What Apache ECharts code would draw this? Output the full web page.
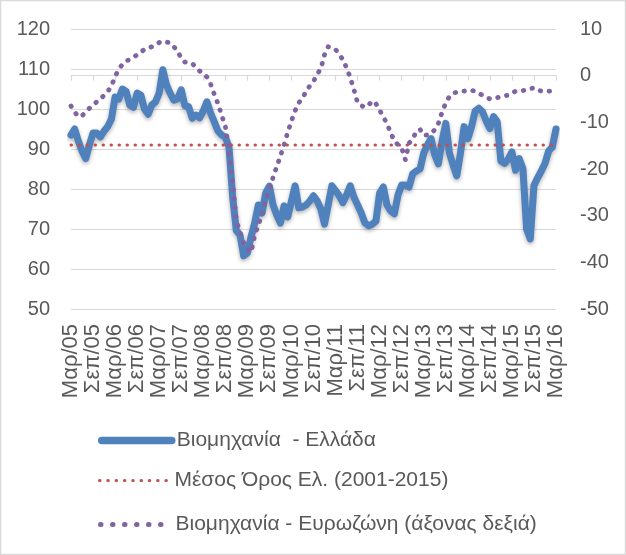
<!DOCTYPE html>
<html>
<head>
<meta charset="utf-8">
<script src="https://cdn.jsdelivr.net/npm/echarts@6/dist/echarts.min.js"></script>
<style>
  html, body { margin: 0; padding: 0; background: #fff; }
  #chart { width: 626px; height: 555px; }
</style>
</head>
<body>
<div id="chart"></div>
<script>
// μήνες (ετικέτες άξονα x): Μαρ/05 ... Μαρ/16
const monthNames = ['Ιαν', 'Φεβ', 'Μαρ', 'Απρ', 'Μαϊ', 'Ιουν', 'Ιουλ', 'Αυγ', 'Σεπ', 'Οκτ', 'Νοε', 'Δεκ'];
const startYear = 2005;
const startMonth = 2; // Μάρτιος
const monthCount = 133;

const categories = [];
for (let k = 0; k < monthCount; k++) {
  const m = (startMonth + k) % 12;
  const y = startYear + Math.floor((startMonth + k) / 12);
  categories.push(monthNames[m] + '/' + String(y).slice(2));
}

// Βιομηχανία - Ελλάδα (αριστερός άξονας)
const greeceIndustry = [
  93.5, 95, 92, 89.5, 87.6, 91, 94, 94, 93, 94.5, 95.6, 97.5,
  103, 102.5, 105, 104.4, 101, 100.4, 104, 103.5, 100, 98.7, 101, 101.8,
  104, 109.8, 106, 103.9, 102.2, 102.5, 104.8, 100.8, 100.6, 97.7, 98.5, 97.8,
  99.5, 101.8, 99, 96.8, 94.5, 93.5, 93, 90.5, 78, 69.6, 68.5, 63.3,
  64, 68, 71.5, 76, 74, 79, 80.7, 76, 73.5, 71.5, 75.8, 73,
  77, 80.8, 75.3, 75.5, 76, 77, 78.3, 77, 75, 71.2, 76, 80.8,
  79.6, 78.3, 76.6, 78.5, 80.8, 78, 76, 74, 71.5, 70.8, 71.2, 72,
  79, 80.5, 76, 74.5, 73.8, 78.5, 81, 81, 80.5, 83.8, 84.5, 85,
  89, 91, 92.6, 88.5, 86.3, 92, 96.4, 89, 86, 83.3, 89, 95.6,
  92.6, 95.5, 99.5, 100.2, 99.3, 97, 95.1, 98.1, 96.8, 87, 86.4, 87.5,
  89.3, 84.7, 87.6, 85.1, 70, 67.5, 80.9, 82.8, 84.5, 86.4, 89.5, 90.5,
  95
];

// Βιομηχανία - Ευρωζώνη (δεξιός άξονας)
const euroIndustry = [
  -6.5, -7.8, -8.8, -8.6, -7.8, -7, -6.4, -5.6, -5, -4.2, -3.4, -2.2,
  -0.2, 1.4, 2.4, 3.1, 3.5, 3.9, 4.5, 5.1, 5.6, 5.9, 6.2, 6.6,
  7.1, 7.4, 7.2, 7.0, 6.2, 5.2, 3.8, 2.9, 2.8, 2.6, 1.8, 1.0,
  0.4, -0.3, -1.8, -4.0, -6.0, -8.5, -10.8, -16, -23, -31, -33.6, -35.8,
  -37, -37.9, -34.2, -32, -29.7, -26.6, -24.3, -21.8, -19.5, -17.2, -14.8, -12.1,
  -9.7, -7.5, -5.8, -4.9, -3.3, -2.2, -1.2, 0.3, 1.5, 4.5, 6.2, 6.0,
  5.6, 4.6, 3.4, 1.7, -0.4, -3.0, -5.8, -6.4, -6.8, -6.3, -5.4, -6,
  -7.4, -8.8, -10.3, -12.2, -14, -14.8, -15.5, -18, -14.5, -13.5, -12, -11.5,
  -12.8, -12.7, -12.4, -11.6, -10.2, -7.8, -5.8, -4.5, -3.8, -3.5, -3.3, -3.3,
  -3.2, -3.1, -3.4, -3.8, -4.2, -4.6, -5, -4.8, -4.7, -4.5, -4.3, -4.2,
  -3.8, -3.3, -3.2, -3.2, -3.0, -2.8, -2.6, -3.1, -3.3, -3.3, -3.3, -3.4,
  -3.5
];

// Μέσος Όρος Ελ. (2001-2015)
const greeceAverage = 91;

const seriesNames = [
  'Βιομηχανία  - Ελλάδα',
  'Μέσος Όρος Ελ. (2001-2015)',
  'Βιομηχανία - Ευρωζώνη (άξονας δεξιά)'
];

const leftTicks = { min: 50, max: 120, interval: 10 };
const rightTicks = { min: -50, max: 10, interval: 10 };

const fontFamily = '"Liberation Sans", "DejaVu Sans", sans-serif';
const textColor = '#595959';
const gridColor = '#d9d9d9';

const chart = echarts.init(document.getElementById('chart'), null, { renderer: 'canvas' });

function legendAt(name, top, lineStyle) {
  return {
    data: [name],
    left: 93,
    top: top,
    itemWidth: 70,
    itemHeight: 14,
    itemGap: 8,
    selectedMode: false,
    textStyle: { fontSize: 21, color: textColor, fontFamily: fontFamily },
    itemStyle: { color: 'rgba(0,0,0,0)', borderWidth: 0 },
    lineStyle: lineStyle
  };
}

const option = {
  animation: false,
  backgroundColor: '#fff',
  graphic: [{
    type: 'rect',
    shape: { x: 0.5, y: 0.5, width: 625, height: 554 },
    style: { fill: 'none', stroke: gridColor, lineWidth: 1.5 },
    silent: true
  }],
  grid: { left: 71, top: 29, width: 485, height: 280 },
  legend: [
    legendAt(seriesNames[0], 425, { width: 7.5, cap: 'round' }),
    legendAt(seriesNames[1], 465, { width: 3, type: [0.5, 7.8], cap: 'round' }),
    legendAt(seriesNames[2], 509, { width: 5, type: [0.5, 11.5], cap: 'round' })
  ],
  xAxis: {
    type: 'category',
    data: categories,
    boundaryGap: false,
    axisLine: { show: true, lineStyle: { color: gridColor, width: 1.2 } },
    axisTick: { show: true, interval: 5, length: 5, lineStyle: { color: gridColor, width: 1.2 } },
    axisLabel: {
      interval: 5,
      rotate: 90,
      margin: 15,
      fontSize: 22,
      color: textColor,
      fontFamily: fontFamily
    },
    splitLine: { show: false }
  },
  yAxis: [
    {
      type: 'value',
      min: leftTicks.min,
      max: leftTicks.max,
      interval: leftTicks.interval,
      axisLine: { show: false },
      axisTick: { show: false },
      axisLabel: { fontSize: 20, color: textColor, fontFamily: fontFamily, margin: 21 },
      splitLine: { lineStyle: { color: gridColor, width: 1.2 } }
    },
    {
      type: 'value',
      position: 'right',
      min: rightTicks.min,
      max: rightTicks.max,
      interval: rightTicks.interval,
      axisLine: { show: false },
      axisTick: { show: false },
      axisLabel: { fontSize: 20, color: textColor, fontFamily: fontFamily, margin: 24 },
      splitLine: { show: false }
    }
  ],
  series: [
    {
      name: seriesNames[0],
      type: 'line',
      yAxisIndex: 0,
      data: greeceIndustry,
      symbol: 'none',
      lineStyle: {
        color: '#4f81bd',
        width: 7,
        cap: 'round',
        join: 'round',
        shadowColor: 'rgba(0,0,0,0.3)',
        shadowBlur: 4,
        shadowOffsetY: 2
      },
      itemStyle: { color: '#4f81bd' },
      z: 2
    },
    {
      name: seriesNames[1],
      type: 'line',
      yAxisIndex: 0,
      data: [[categories[0], greeceAverage], [categories[monthCount - 1], greeceAverage]],
      symbol: 'none',
      lineStyle: {
        color: '#c0504d',
        width: 3,
        type: [0.5, 7.5],
        cap: 'round'
      },
      itemStyle: { color: '#c0504d' },
      z: 3
    },
    {
      name: seriesNames[2],
      type: 'line',
      yAxisIndex: 1,
      data: euroIndustry,
      symbol: 'none',
      lineStyle: {
        color: '#8064a2',
        width: 4.8,
        type: [0.5, 8.5],
        cap: 'round',
        join: 'round'
      },
      itemStyle: { color: '#8064a2' },
      z: 4
    }
  ]
};

chart.setOption(option);
</script>
</body>
</html>
